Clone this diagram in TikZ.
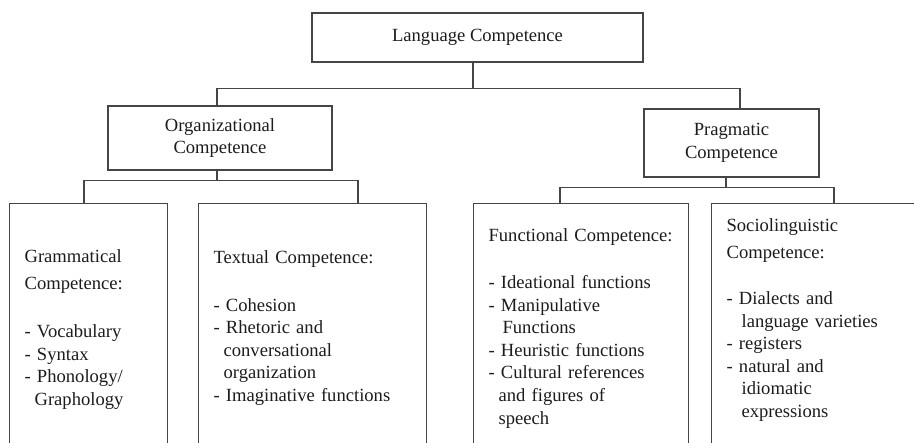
\documentclass[tikz,border=0pt]{standalone}
\usepackage{fontspec}
\setmainfont{Liberation Serif}
\definecolor{rule}{HTML}{454545}
\definecolor{ink}{HTML}{1C1C1C}
\tikzset{
	every node/.style={font=\fontsize{18.6}{22.6}\selectfont, text=ink},
	headbox/.style={draw=rule, line width=1.2pt, inner sep=0pt, align=center},
	listbox/.style={draw=rule, line width=1.2pt, anchor=north west, inner xsep=15pt, inner ysep=0pt, align=left, text depth=260pt},
	link/.style={draw=rule, line width=1.2pt},
}
\begin{document}
\begin{tikzpicture}[x=1pt,y=-1pt]
		\useasboundingbox (0,0) rectangle (914,443);
		\clip (0,0) rectangle (914,443);
		\path
			  (477.5, 37.5) node[headbox, minimum width=331pt, minimum height=49pt] (lang)    {Language Competence}
			  (220,  138)   node[headbox, minimum width=224pt, minimum height=64pt] (organiz) {Organizational\\Competence}
			  (731.5,143)   node[headbox, minimum width=175pt, minimum height=68pt] (pragm)   {Pragmatic\\Competence}
			  (9,    203)   node[listbox, text width=128pt, text height=59pt] (gramm)   {Grammatical\\[4.4pt]Competence:\\[25.4pt]- Vocabulary\\- Syntax\\- Phonology/\\\hspace*{10pt}Graphology}
			  (198,  203)   node[listbox, text width=198pt, text height=60pt] (textual) {Textual Competence:\\[25pt]- Cohesion\\- Rhetoric and\\\hspace*{10pt}conversational\\\hspace*{10pt}organization\\- Imaginative functions}
			  (473,  203)   node[listbox, text width=185pt, text height=38pt] (funct)   {Functional Competence:\\[24.4pt]- Ideational functions\\- Manipulative\\\hspace*{14pt}Functions\\- Heuristic functions\\- Cultural references\\\hspace*{10pt}and figures of\\\hspace*{10pt}speech}
			  (711,  203)   node[listbox, text width=200pt, text height=28pt] (socio)   {Sociolinguistic\\[4.4pt]Competence:\\[23.4pt]- Dialects and\\\hspace*{15pt}language varieties\\- registers\\- natural and\\\hspace*{15pt}idiomatic\\\hspace*{15pt}expressions}
		;
		\draw[link] ([xshift=-4.5pt]lang.south)    -- ++(0,26) -| ([xshift=-3pt]organiz.north);
		\draw[link] ([xshift=-4.5pt]lang.south)    -- ++(0,26) -| ([xshift=8.5pt]pragm.north);
		\draw[link] ([xshift=-3pt]organiz.south)   -- ++(0,10) -| ([xshift=75pt]gramm.north west);
		\draw[link] ([xshift=-3pt]organiz.south)   -- ++(0,10) -| ([xshift=160pt]textual.north west);
		\draw[link] ([xshift=-5.5pt]pragm.south)   -- ++(0,10) -| ([xshift=87pt]funct.north west);
		\draw[link] ([xshift=-5.5pt]pragm.south)   -- ++(0,10) -| ([xshift=123pt]socio.north west);
	\end{tikzpicture}
\end{document}
